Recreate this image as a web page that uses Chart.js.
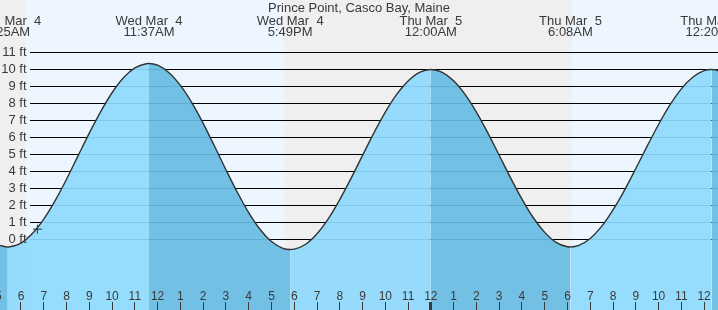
<!DOCTYPE html>
<html lang="en">
<head>
  <meta charset="UTF-8" />
  <title>Prince Point, Casco Bay, Maine</title>
  <script src="https://cdn.jsdelivr.net/npm/chart.js"></script>
  <style>
    body { margin: 0; background: #fff; }
    #wrap { width: 718px; height: 310px; }
  </style>
</head>
<body>
  <div id="wrap"><canvas id="tide" width="718" height="310"></canvas></div>
  <script>
    const title = 'Prince Point, Casco Bay, Maine';

    // tide height (ft), hours counted from Wed Mar 4 00:00
    const tideHours = [5, 5.42, 5.5, 6, 6.5, 7, 7.5, 8, 8.5, 9, 9.5, 10, 10.5, 11, 11.5, 11.62,
      12, 12.5, 13, 13.5, 14, 14.5, 15, 15.5, 16, 16.5, 17, 17.5, 17.82,
      18, 18.5, 19, 19.5, 20, 20.5, 21, 21.5, 22, 22.5, 23, 23.5, 24, 24.5, 25, 25.5, 26, 26.5, 27, 27.5, 28, 28.5, 29, 29.5, 30, 30.13,
      30.5, 31, 31.5, 32, 32.5, 33, 33.5, 34, 34.5, 35, 35.5, 36, 36.33, 36.5, 37];
    const tideFeet = [-0.33, -0.45, -0.44, -0.22, 0.34, 1.19, 2.28, 3.54, 4.90, 6.25, 7.52, 8.63, 9.51, 10.09, 10.34, 10.35,
      10.25, 9.81, 9.06, 8.05, 6.83, 5.48, 4.10, 2.77, 1.57, 0.58, -0.13, -0.53, -0.6,
      -0.58, -0.29, 0.33, 1.22, 2.34, 3.60, 4.94, 6.27, 7.49, 8.53, 9.32, 9.83, 10.0, 9.83, 9.33, 8.53, 7.49, 6.27, 4.95, 3.62, 2.37, 1.27, 0.41, -0.18, -0.44, -0.45,
      -0.36, 0.05, 0.76, 1.73, 2.88, 4.17, 5.49, 6.76, 7.91, 8.86, 9.54, 9.93, 10.0, 9.98, 9.70];

    // high / low tide labels along the top
    const extremeHours = [5.42, 11.62, 17.82, 24.0, 30.13, 36.33];
    const extremeDays = ['Wed Mar  4', 'Wed Mar  4', 'Wed Mar  4', 'Thu Mar  5', 'Thu Mar  5', 'Thu Mar  5'];
    const extremeTimes = ['5:25AM', '11:37AM', '5:49PM', '12:00AM', '6:08AM', '12:20PM'];

    // night shading (sunset -> sunrise)
    const nightStarts = [4, 17.55];
    const nightEnds = [6.18, 30.2];

    // hour ticks along the bottom
    const hourTicks = [5, 6, 7, 8, 9, 10, 11, 12, 13, 14, 15, 16, 17, 18, 19, 20, 21, 22, 23, 24,
      25, 26, 27, 28, 29, 30, 31, 32, 33, 34, 35, 36];
    const hourLabels = ['5', '6', '7', '8', '9', '10', '11', '12', '1', '2', '3', '4', '5', '6', '7', '8', '9', '10', '11', '12',
      '1', '2', '3', '4', '5', '6', '7', '8', '9', '10', '11', '12'];
    const midnightHour = 24;

    const feetTicks = [0, 1, 2, 3, 4, 5, 6, 7, 8, 9, 10, 11];

    // current time marker
    const nowHour = 6.72;
    const nowFeet = 0.6;

    const FONT = '"Liberation Sans", Arial, sans-serif';
    const TEXT = '#3a3a3a';

    const tidePlugin = {
      id: 'tideDecor',
      beforeDraw(chart) {
        const { ctx, chartArea, scales: { x } } = chart;
        ctx.save();
        ctx.fillStyle = '#edf6fe';
        ctx.fillRect(chartArea.left, chartArea.top, chartArea.width, chartArea.height);
        ctx.fillStyle = '#efefef';
        nightStarts.forEach((s, i) => {
          const x0 = Math.max(x.getPixelForValue(s), chartArea.left);
          const x1 = Math.min(x.getPixelForValue(nightEnds[i]), chartArea.right);
          ctx.fillRect(Math.round(x0), chartArea.top, Math.round(x1) - Math.round(x0), chartArea.height);
        });
        ctx.restore();
      },
      beforeDatasetsDraw(chart) {
        const { ctx, chartArea, scales: { y } } = chart;
        ctx.save();
        ctx.strokeStyle = '#000';
        ctx.lineWidth = 1;
        feetTicks.forEach(v => {
          const py = Math.floor(y.getPixelForValue(v)) + 0.5;
          ctx.beginPath();
          ctx.moveTo(30, py);
          ctx.lineTo(chartArea.right, py);
          ctx.stroke();
        });
        ctx.restore();
      },
      afterDraw(chart) {
        const { ctx, chartArea, scales: { x, y } } = chart;
        ctx.save();
        ctx.fillStyle = TEXT;

        // title and extremes
        ctx.font = '13px ' + FONT;
        ctx.textAlign = 'center';
        ctx.textBaseline = 'alphabetic';
        ctx.fillText(title, 359, 12);
        extremeHours.forEach((h, i) => {
          const px = x.getPixelForValue(h);
          ctx.fillText(extremeDays[i], px, 25);
          ctx.fillText(extremeTimes[i], px, 36);
        });

        // feet labels
        ctx.textAlign = 'right';
        ctx.textBaseline = 'middle';
        feetTicks.forEach(v => {
          ctx.fillText(v + ' ft', 26.5, y.getPixelForValue(v));
        });

        // hour labels and ticks
        ctx.font = '12px ' + FONT;
        ctx.textAlign = 'center';
        ctx.textBaseline = 'alphabetic';
        ctx.strokeStyle = TEXT;
        ctx.lineWidth = 1;
        hourTicks.forEach((h, i) => {
          const px = x.getPixelForValue(h);
          ctx.fillText(hourLabels[i], px, 300);
          if (h === midnightHour) {
            ctx.fillRect(Math.round(px) - 2, 302, 3, chartArea.bottom - 302);
          } else {
            ctx.beginPath();
            ctx.moveTo(Math.floor(px) + 0.5, 302);
            ctx.lineTo(Math.floor(px) + 0.5, chartArea.bottom);
            ctx.stroke();
          }
        });
        ctx.restore();
      }
    };

    const rising = 'rgba(142, 217, 253, 0.92)';
    const falling = 'rgba(103, 188, 227, 0.92)';

    new Chart(document.getElementById('tide'), {
      type: 'line',
      data: {
        datasets: [
          {
            label: 'now',
            data: [{ x: nowHour, y: nowFeet }],
            showLine: false,
            pointStyle: 'cross',
            pointRadius: 4.5,
            borderColor: '#333',
            borderWidth: 1
          },
          {
            label: 'Tide',
            data: tideHours.map((h, i) => ({ x: h, y: tideFeet[i] })),
            borderColor: '#333',
            borderWidth: 1.4,
            backgroundColor: rising,
            fill: 'start',
            pointRadius: 0,
            cubicInterpolationMode: 'monotone',
            segment: {
              backgroundColor: c => c.p1.parsed.y < c.p0.parsed.y ? falling : rising
            }
          }
        ]
      },
      options: {
        responsive: false,
        devicePixelRatio: 1,
        animation: false,
        layout: { autoPadding: false, padding: 0 },
        scales: {
          x: { type: 'linear', display: false, min: 5.078, max: 36.61 },
          y: { display: false, min: -4.16, max: 14.09 }
        },
        plugins: {
          legend: { display: false },
          tooltip: { enabled: false }
        }
      },
      plugins: [tidePlugin]
    });
  </script>
</body>
</html>
